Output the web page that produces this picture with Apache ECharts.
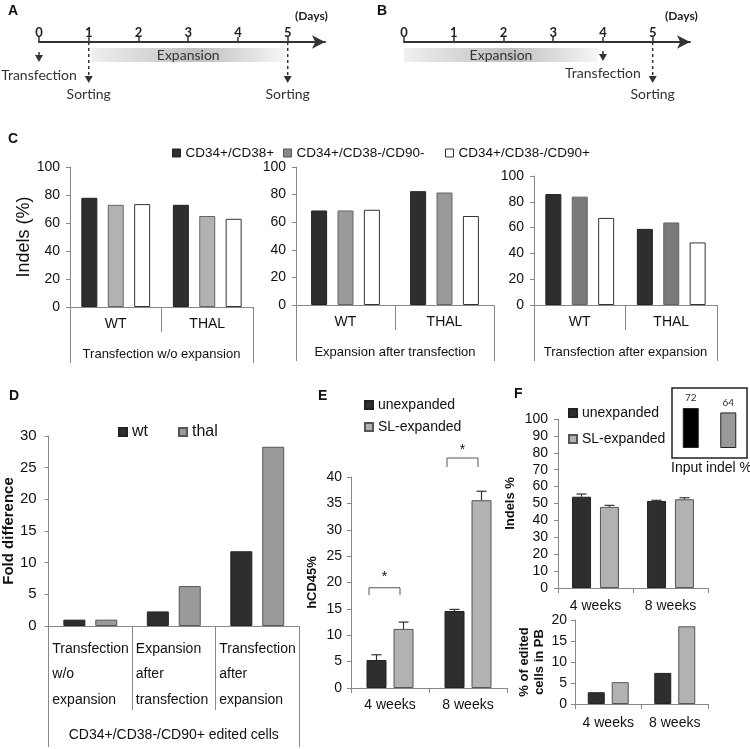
<!DOCTYPE html>
<html>
<head>
<meta charset="utf-8">
<script src="https://cdn.jsdelivr.net/npm/echarts@6/dist/echarts.min.js"></script>
<style>
  html, body { margin: 0; padding: 0; background: #fff; }
  #chart { width: 750px; height: 749px; }
</style>
</head>
<body>
<div id="chart"></div>
<script>
// A / B timelines
const days = [0, 1, 2, 3, 4, 5]
const expansionA = [1.05, 4.95]
const expansionB = [0, 3.9]
// [day, arrow start, arrow end, label position] (pixels under the axis)
const eventNamesA = ['Transfection', 'Sorting', 'Sorting']
const eventsA = [[0, 10, 20, 33], [1, 0, 41, 52], [5, 0, 41, 52]]
const eventNamesB = ['Transfection', 'Sorting']
const eventsB = [[4, 9, 19, 31], [5, 0, 41, 52]]

// C
const genotypes = ['WT', 'THAL']
const subsets = ['CD34+/CD38+', 'CD34+/CD38-/CD90-', 'CD34+/CD38-/CD90+']
const protocols = ['Transfection w/o expansion', 'Expansion after transfection', 'Transfection after expansion']
const indelsNoExp = [[78, 73], [73, 65], [73.5, 63]]
const indelsExpAfter = [[68.5, 82.5], [68.5, 81.5], [69, 64.5]]
const indelsExpBefore = [[86, 59], [84, 64], [67.5, 48.5]]

// D
const conditions = ['Transfection\nw/o\nexpansion', 'Expansion\nafter\ntransfection', 'Transfection\nafter\nexpansion']
const foldWt = [1.0, 2.3, 11.8]
const foldThal = [1.0, 6.3, 28.3]

// E
const weeks = ['4 weeks', '8 weeks']
const hcd45Unexp = [5.3, 14.6]
const hcd45UnexpErr = [1.0, 0.3]
const hcd45Sl = [11.2, 35.6]
const hcd45SlErr = [1.3, 1.7]
const sigBrackets = [[17.6, 19.0, 21.0], [41.9, 43.6, 45.0]]

// F
const indelsUnexp = [54, 51.5]
const indelsUnexpErr = [1.6, 0.4]
const indelsSl = [48, 52.5]
const indelsSlErr = [0.9, 0.9]
const pbUnexp = [2.8, 7.4]
const pbSl = [5.2, 18.5]
const inputIndel = [72, 64]

const FONT = 'Liberation Sans, Arial, sans-serif'
const TL_FONT = 'Lato, sans-serif'
const DARK = '#2e2e2e'

const grids = []
const xAxes = []
const yAxes = []
const series = []
function addGrid(g) { grids.push(g); return grids.length - 1 }
function addX(a) { xAxes.push(a); return xAxes.length - 1 }
function addY(a) { yAxes.push(a); return yAxes.length - 1 }

function timeline(left, expansion, events, names) {
  const g = addGrid({ left: left, top: 42, width: 286, height: 60 })
  const xi = addX({
    gridIndex: g, type: 'value', min: 0, max: 5.75, position: 'top',
    axisLine: { onZero: false, symbol: ['none', 'arrow'], symbolSize: [10, 13], lineStyle: { color: '#333', width: 2 } },
    axisTick: { show: true, customValues: days, length: 5, lineStyle: { color: '#333', width: 1.5 } },
    axisLabel: { customValues: days, fontFamily: TL_FONT, fontWeight: 'bold', fontSize: 13, color: '#222', margin: 3 },
    splitLine: { show: false }
  })
  const yi = addY({ gridIndex: g, type: 'value', min: 0, max: 60, inverse: true, show: false })
  series.push({
    type: 'custom', xAxisIndex: xi, yAxisIndex: yi, z: 1,
    data: [expansion],
    renderItem: function (params, api) {
      const p0 = api.coord([api.value(0), 6])
      const p1 = api.coord([api.value(1), 20])
      return {
        type: 'group',
        children: [{
          type: 'rect',
          shape: { x: p0[0], y: p0[1], width: p1[0] - p0[0], height: p1[1] - p0[1] },
          style: {
            fill: new echarts.graphic.LinearGradient(0, 0, 1, 0, [
              { offset: 0, color: '#efefef' },
              { offset: 0.55, color: '#c0c0c0' },
              { offset: 1, color: '#f6f6f6' }
            ])
          }
        }, {
          type: 'text', x: (p0[0] + p1[0]) / 2, y: (p0[1] + p1[1]) / 2,
          style: { text: 'Expansion', fill: '#333', font: '14px ' + TL_FONT, align: 'center', verticalAlign: 'middle' }
        }]
      }
    }
  })
  series.push({
    type: 'custom', xAxisIndex: xi, yAxisIndex: yi, z: 2,
    data: events,
    renderItem: function (params, api) {
      const a = api.coord([api.value(0), api.value(1)])
      const b = api.coord([api.value(0), api.value(2)])
      const t = api.coord([api.value(0), api.value(3)])
      return {
        type: 'group',
        children: [{
          type: 'line', shape: { x1: a[0], y1: a[1], x2: b[0], y2: b[1] - 6 },
          style: { stroke: '#333', lineWidth: 1.5, lineDash: [3, 3] }
        }, {
          type: 'polygon', shape: { points: [[b[0] - 4, b[1] - 7], [b[0] + 4, b[1] - 7], [b[0], b[1]]] },
          style: { fill: '#333' }
        }, {
          type: 'text', x: t[0], y: t[1],
          style: { text: names[params.dataIndex], fill: '#333', font: '14px ' + TL_FONT, align: 'center', verticalAlign: 'middle' }
        }]
      }
    }
  })
}

timeline(39, expansionA, eventsA, eventNamesA)
timeline(404, expansionB, eventsB, eventNamesB)

function valueAxis(g, max, interval, name, nameGap, nameStyle, fontSize, margin) {
  return addY({
    gridIndex: g, type: 'value', min: 0, max: max, interval: interval,
    name: name, nameLocation: 'middle', nameGap: nameGap, nameTextStyle: nameStyle,
    axisLine: { show: true, lineStyle: { color: '#888' } },
    axisTick: { show: true, length: 4, lineStyle: { color: '#888' } },
    splitLine: { show: false },
    axisLabel: { fontSize: fontSize, color: '#111', margin: margin, fontFamily: FONT }
  })
}

function indelPanel(box, vals, gray, protocol, showName) {
  const g = addGrid(box)
  const xi = addX({
    gridIndex: g, type: 'category', data: genotypes, position: 'bottom',
    axisLine: { show: true, lineStyle: { color: '#888' } },
    axisTick: { show: true, length: 25, lineStyle: { color: '#888' } },
    axisLabel: { margin: 10, interval: 0, fontSize: 14, color: '#111', fontFamily: FONT }
  })
  addX({
    gridIndex: g, type: 'category', data: [protocol], position: 'bottom',
    axisLine: { show: false },
    axisTick: { show: true, length: 56, lineStyle: { color: '#888' } },
    axisLabel: { margin: 41, interval: 0, fontSize: 13, color: '#111', fontFamily: FONT }
  })
  const yi = valueAxis(g, 100, 20, showName ? 'Indels (%)' : '', 34,
    { fontSize: 18, color: '#111', fontFamily: FONT }, 14, 10)
  const colors = [DARK, gray, '#fff']
  const borders = ['#222', '#666', '#333']
  subsets.forEach(function (name, s) {
    series.push({
      type: 'bar', name: name, xAxisIndex: xi, yAxisIndex: yi, data: vals[s],
      barWidth: 16, barGap: '65%',
      itemStyle: { color: colors[s], borderColor: borders[s], borderWidth: 1 }
    })
  })
}

indelPanel({ left: 70, top: 167, width: 183, height: 140 }, indelsNoExp, '#b2b2b2', protocols[0], true)
indelPanel({ left: 296, top: 167, width: 198, height: 138 }, indelsExpAfter, '#9a9a9a', protocols[1], false)
indelPanel({ left: 534, top: 176, width: 183, height: 129 }, indelsExpBefore, '#7a7a7a', protocols[2], false)

// D
;(function () {
  const g = addGrid({ left: 44, top: 436, width: 255, height: 190 })
  const xi = addX({
    gridIndex: g, type: 'category', data: conditions, position: 'bottom',
    axisLine: { show: true, lineStyle: { color: '#888' } },
    axisTick: { show: true, length: 84, lineStyle: { color: '#888' } },
    axisLabel: {
      margin: 10, interval: 0,
      formatter: function (v) { return v.split('\n').map(function (s) { return '{a|' + s + '}' }).join('\n') },
      rich: { a: { width: 76, align: 'left', fontSize: 14, lineHeight: 25.5, color: '#111', fontFamily: FONT } }
    }
  })
  addX({
    gridIndex: g, type: 'category', data: ['CD34+/CD38-/CD90+ edited cells'], position: 'bottom',
    axisLine: { show: false },
    axisTick: { show: true, length: 121, lineStyle: { color: '#888' } },
    axisLabel: { margin: 102, interval: 0, fontSize: 14, color: '#111', fontFamily: FONT }
  })
  const yi = valueAxis(g, 30, 5, 'Fold difference', 27,
    { fontSize: 15, fontWeight: 'bold', color: '#111', fontFamily: FONT }, 15, 12)
  series.push({ type: 'bar', name: 'wt', xAxisIndex: xi, yAxisIndex: yi, data: foldWt, barWidth: 22, barGap: '45%',
    itemStyle: { color: DARK, borderColor: '#222', borderWidth: 1 } })
  series.push({ type: 'bar', name: 'thal', xAxisIndex: xi, yAxisIndex: yi, data: foldThal, barWidth: 22, barGap: '45%',
    itemStyle: { color: '#9a9a9a', borderColor: '#555', borderWidth: 1 } })
})()

function errorBars(xi, yi, values, errs, offset) {
  return {
    type: 'custom', xAxisIndex: xi, yAxisIndex: yi, z: 3,
    data: values.map(function (v, i) { return [i, v, v + errs[i]] }),
    renderItem: function (params, api) {
      const base = api.coord([api.value(0), api.value(1)])
      const top = api.coord([api.value(0), api.value(2)])
      const x = base[0] + offset
      return {
        type: 'group',
        children: [
          { type: 'line', shape: { x1: x, y1: base[1], x2: x, y2: top[1] }, style: { stroke: '#333', lineWidth: 1.2 } },
          { type: 'line', shape: { x1: x - 5, y1: top[1], x2: x + 5, y2: top[1] }, style: { stroke: '#333', lineWidth: 1.2 } }
        ]
      }
    }
  }
}

function weeksAxis(g, margin) {
  return addX({
    gridIndex: g, type: 'category', data: weeks, position: 'bottom',
    axisLine: { show: true, lineStyle: { color: '#888' } },
    axisTick: { show: true, length: 5, lineStyle: { color: '#888' } },
    axisLabel: { margin: margin, interval: 0, fontSize: 14, color: '#111', fontFamily: FONT }
  })
}

// E
;(function () {
  const g = addGrid({ left: 351, top: 477, width: 156, height: 211 })
  const xi = weeksAxis(g, 10)
  const yi = valueAxis(g, 40, 5, 'hCD45%', 32,
    { fontSize: 13, fontWeight: 'bold', color: '#111', fontFamily: FONT }, 14, 9)
  series.push({ type: 'bar', name: 'unexpanded', xAxisIndex: xi, yAxisIndex: yi, data: hcd45Unexp, barWidth: 20, barGap: '35%',
    itemStyle: { color: DARK, borderColor: '#222', borderWidth: 1 } })
  series.push({ type: 'bar', name: 'SL-expanded', xAxisIndex: xi, yAxisIndex: yi, data: hcd45Sl, barWidth: 20, barGap: '35%',
    itemStyle: { color: '#b2b2b2', borderColor: '#555', borderWidth: 1 } })
  series.push(errorBars(xi, yi, hcd45Unexp, hcd45UnexpErr, -13.5))
  series.push(errorBars(xi, yi, hcd45Sl, hcd45SlErr, 13.5))
  series.push({
    type: 'custom', xAxisIndex: xi, yAxisIndex: yi, z: 3,
    data: sigBrackets.map(function (b, i) { return [i].concat(b) }),
    renderItem: function (params, api) {
      const lo = api.coord([api.value(0), api.value(1)])
      const hi = api.coord([api.value(0), api.value(2)])
      const st = api.coord([api.value(0), api.value(3)])
      const x1 = lo[0] - 21
      const x2 = lo[0] + 10
      return {
        type: 'group',
        children: [
          { type: 'polyline', shape: { points: [[x1, lo[1]], [x1, hi[1]], [x2, hi[1]], [x2, lo[1]]] }, style: { stroke: '#555', lineWidth: 1, fill: null } },
          { type: 'text', x: (x1 + x2) / 2, y: st[1], style: { text: '*', font: '14px ' + FONT, fill: '#111', align: 'center', verticalAlign: 'middle' } }
        ]
      }
    }
  })
})()

// F top
;(function () {
  const g = addGrid({ left: 558, top: 419, width: 150, height: 169 })
  const xi = weeksAxis(g, 11)
  const yi = valueAxis(g, 100, 10, 'Indels %', 41,
    { fontSize: 13, fontWeight: 'bold', color: '#111', fontFamily: FONT }, 14, 10)
  series.push({ type: 'bar', name: 'unexpanded', xAxisIndex: xi, yAxisIndex: yi, data: indelsUnexp, barWidth: 19, barGap: '47%',
    itemStyle: { color: DARK, borderColor: '#222', borderWidth: 1 } })
  series.push({ type: 'bar', name: 'SL-expanded', xAxisIndex: xi, yAxisIndex: yi, data: indelsSl, barWidth: 19, barGap: '47%',
    itemStyle: { color: '#b2b2b2', borderColor: '#555', borderWidth: 1 } })
  series.push(errorBars(xi, yi, indelsUnexp, indelsUnexpErr, -14))
  series.push(errorBars(xi, yi, indelsSl, indelsSlErr, 14))
})()

// F bottom
;(function () {
  const g = addGrid({ left: 575, top: 620, width: 133, height: 84 })
  const xi = weeksAxis(g, 12)
  const yi = valueAxis(g, 20, 5, '% of edited\ncells in PB', 28,
    { fontSize: 13, fontWeight: 'bold', color: '#111', fontFamily: FONT, lineHeight: 15 }, 14, 8)
  series.push({ type: 'bar', name: 'unexpanded', xAxisIndex: xi, yAxisIndex: yi, data: pbUnexp, barWidth: 17, barGap: '41%',
    itemStyle: { color: DARK, borderColor: '#222', borderWidth: 1 } })
  series.push({ type: 'bar', name: 'SL-expanded', xAxisIndex: xi, yAxisIndex: yi, data: pbSl, barWidth: 17, barGap: '41%',
    itemStyle: { color: '#b2b2b2', borderColor: '#555', borderWidth: 1 } })
})()

// F inset
;(function () {
  const g = addGrid({ left: 672, top: 388, width: 75, height: 70, show: true, borderColor: '#222', borderWidth: 1.5, backgroundColor: 'transparent' })
  const xi = addX({ gridIndex: g, type: 'category', data: ['unexpanded', 'SL-expanded'], show: false })
  const yi = addY({ gridIndex: g, type: 'value', min: -18, max: 108, show: false, splitLine: { show: false } })
  series.push({
    type: 'bar', xAxisIndex: xi, yAxisIndex: yi, barWidth: 16,
    data: inputIndel.map(function (v, i) { return { value: v, itemStyle: { color: i === 0 ? '#000' : '#999' } } }),
    itemStyle: { borderColor: '#222', borderWidth: 1 },
    label: { show: true, position: 'top', distance: 5, fontSize: 10, color: '#333', fontFamily: TL_FONT }
  })
})()

const legendText = { fontSize: 14, color: '#111', fontFamily: FONT }
const legendBase = { itemWidth: 8, itemHeight: 8, icon: 'rect', selectedMode: false, padding: 0 }
const subsetIcons = [
  { color: DARK, borderColor: '#222', borderWidth: 1 },
  { color: '#888', borderColor: '#555', borderWidth: 1 },
  { color: '#fff', borderColor: '#333', borderWidth: 1 }
]
const subsetLegendLeft = [172, 283, 445]

const option = {
  animation: false,
  textStyle: { fontFamily: FONT },
  grid: grids,
  xAxis: xAxes,
  yAxis: yAxes,
  legend: subsets.map(function (name, s) {
    return Object.assign({}, legendBase, {
      left: subsetLegendLeft[s], top: 146,
      textStyle: { fontSize: 13.5, color: '#111', fontFamily: FONT },
      data: [{ name: name, itemStyle: subsetIcons[s] }]
    })
  }).concat([
    Object.assign({}, legendBase, {
      left: 118, top: 424, itemGap: 30,
      textStyle: { fontSize: 16, color: '#111', fontFamily: FONT },
      data: ['wt', 'thal']
    }),
    Object.assign({}, legendBase, {
      left: 364, top: 398, orient: 'vertical', itemGap: 8,
      textStyle: legendText, data: ['unexpanded', 'SL-expanded']
    }),
    Object.assign({}, legendBase, {
      left: 568, top: 406, orient: 'vertical', itemGap: 12,
      textStyle: legendText, data: ['unexpanded', 'SL-expanded']
    })
  ]),
  series: series,
  graphic: [
    { type: 'text', left: 8, top: 4, style: { text: 'A', font: 'bold 14px ' + FONT, fill: '#111' } },
    { type: 'text', left: 377, top: 4, style: { text: 'B', font: 'bold 14px ' + FONT, fill: '#111' } },
    { type: 'text', left: 8, top: 132, style: { text: 'C', font: 'bold 14px ' + FONT, fill: '#111' } },
    { type: 'text', left: 9, top: 389, style: { text: 'D', font: 'bold 14px ' + FONT, fill: '#111' } },
    { type: 'text', left: 318, top: 389, style: { text: 'E', font: 'bold 14px ' + FONT, fill: '#111' } },
    { type: 'text', left: 514, top: 387, style: { text: 'F', font: 'bold 14px ' + FONT, fill: '#111' } },
    { type: 'text', left: 295, top: 10, style: { text: '(Days)', font: 'bold 12px ' + TL_FONT, fill: '#222' } },
    { type: 'text', left: 665, top: 10, style: { text: '(Days)', font: 'bold 12px ' + TL_FONT, fill: '#222' } },
    { type: 'text', left: 671, top: 461, style: { text: 'Input indel %', font: '14px ' + FONT, fill: '#111' } }
  ]
}

const chart = echarts.init(document.getElementById('chart'))
chart.setOption(option)
</script>
</body>
</html>
